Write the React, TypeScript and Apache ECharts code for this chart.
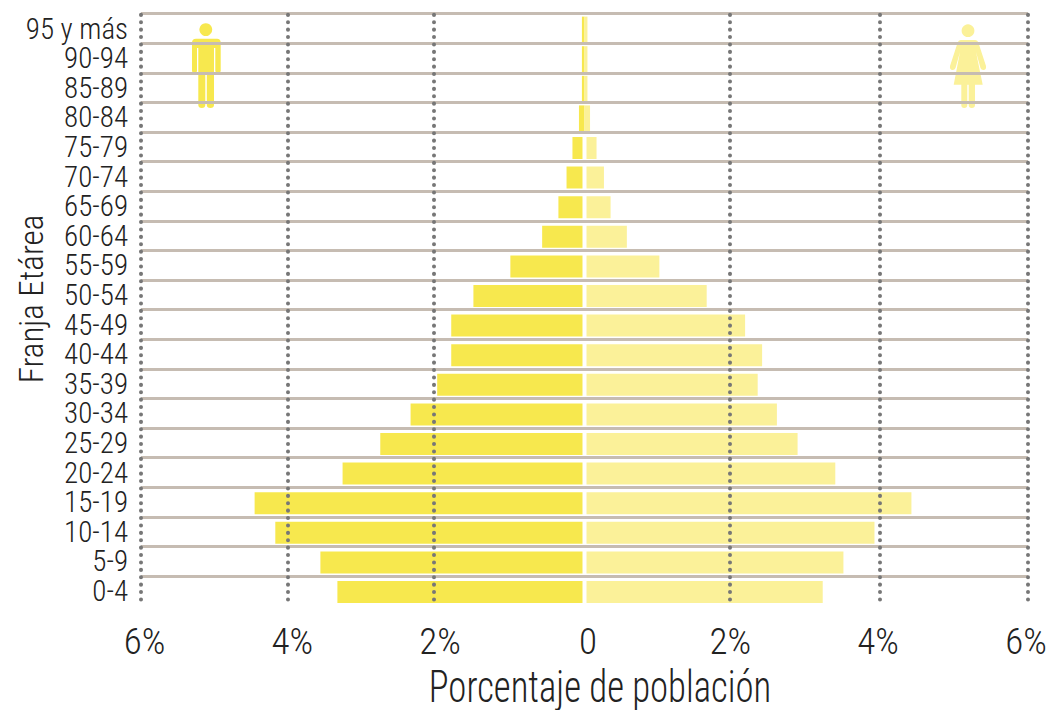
import React, { useEffect, useRef } from "react";
import * as echarts from "echarts";

const ageGroups = ["0-4","5-9","10-14","15-19","20-24","25-29","30-34","35-39","40-44","45-49","50-54","55-59","60-64","65-69","70-74","75-79","80-84","85-89","90-94","95 y más"];
const menShare = [3.37,3.6,4.21,4.49,3.3,2.79,2.38,2.02,1.83,1.83,1.53,1.03,0.6,0.38,0.27,0.19,0.075,0.035,0.035,0.035];
const womenShare = [3.25,3.53,3.95,4.45,3.42,2.91,2.63,2.37,2.43,2.2,1.68,1.04,0.6,0.38,0.29,0.19,0.075,0.04,0.04,0.04];
const tickLabels = [0, 2, 4, 6];
const menGridLines = [0, 2.04, 4.01, 6];
const womenGridLines = [0, 1.97, 3.99, 6];

const MEN = "#f7e84e";
const WOMEN = "#fbf199";
const FONT = "Roboto, 'Open Sans', sans-serif";
const INK = "#222";

const malePath = "M196 38.7 H217 Q220.7 38.7 220.7 42.5 V71 Q220.7 73 218 73 Q215.3 73 215.3 71 V48 H214 V105 Q214 108 210.4 108 Q206.8 108 206.8 105 V73 H205.3 V105 Q205.3 108 201.8 108 Q198.3 108 198.3 105 V48 H197 V71 Q197 73 194.5 73 Q192 73 192 71 V42.5 Q192 38.7 196 38.7 Z";
const femalePath = "M961 40 H975 Q977.5 40 978.5 43 L986 66 Q986.5 69.5 984 70 Q981.5 70.5 980.5 68 L976 52 L982.7 84.7 H975 V105 Q975 108 971.8 108 Q968.7 108 968.7 105 V84.7 H967.3 V105 Q967.3 108 964.2 108 Q961.3 108 961.3 105 V84.7 H953.7 L960 52 L955.5 68 Q954.5 70.5 952 70 Q949.5 69.5 950 66 L957.5 43 Q958.5 40 961 40 Z";

echarts.graphic.registerShape("maleIcon", echarts.graphic.extendPath(malePath, {}));
echarts.graphic.registerShape("femaleIcon", echarts.graphic.extendPath(femalePath, {}));

const barData = (values: number[], color: string) =>
  values.map((value, i) => {
    if (i >= 17) return { value, itemStyle: { borderColor: color, borderWidth: 2 } };
    if (i === 16) return { value, itemStyle: { borderWidth: 0 } };
    return value;
  });

const valueAxis = (gridIndex: number, inverse: boolean, gridLines: number[]) => ({
  type: "value",
  gridIndex,
  inverse,
  min: 0,
  max: 6,
  interval: 2,
  z: 4,
  axisLine: { show: false },
  axisTick: { show: false, customValues: gridLines },
  axisLabel: {
    show: true,
    customValues: tickLabels,
    margin: 16,
    padding: inverse ? [0, 0, 0, 7] : [0, 4, 0, 0],
    fontFamily: FONT,
    fontSize: 37,
    color: INK,
    formatter: (v: number) => (v === 0 ? (inverse ? "0" : "") : v + "%"),
  },
  splitLine: {
    show: true,
    showMinLine: false,
    lineStyle: { color: "#777", width: 4, type: [0.1, 7.3], cap: "round" },
  },
});

export default function App() {
  const ref = useRef<HTMLDivElement>(null);
  useEffect(() => {
    document.body.style.margin = "0";
    const css = document.createElement("style");
    css.textContent = "#root svg text { font-weight: 300 !important; font-stretch: condensed !important; }";
    document.head.appendChild(css);
    const chart = echarts.init(ref.current!, null, { renderer: "svg" });
    const barTop = 14.8;
    const h = 592;
    chart.setOption({
      animation: false,
      backgroundColor: "#fff",
      grid: [
        { left: 141, width: 887, top: 13.7, height: h, outerBoundsMode: "none" },
        { left: 141, width: 443.5, top: barTop, height: h, outerBoundsMode: "none" },
        { left: 584.5, width: 443.5, top: barTop, height: h, outerBoundsMode: "none" },
      ],
      xAxis: [
        {
          type: "value",
          gridIndex: 0,
          min: -6,
          max: 6,
          interval: 2,
          axisLine: { show: false },
          axisTick: { show: false },
          axisLabel: { show: false },
          splitLine: { show: false },
        },
        valueAxis(1, true, menGridLines),
        valueAxis(2, false, womenGridLines),
      ],
      yAxis: [
        {
          type: "category",
          gridIndex: 0,
          data: ageGroups,
          z: 3,
          axisLine: { show: false },
          axisTick: { show: false },
          axisLabel: { margin: 13, interval: 0, fontFamily: FONT, fontSize: 29, color: INK },
          splitLine: { show: true, interval: 0, showMinLine: false, lineStyle: { color: "#c6bcb2", width: 3 } },
        },
        { type: "category", gridIndex: 1, data: ageGroups, show: false },
        { type: "category", gridIndex: 2, data: ageGroups, show: false },
      ],
      series: [
        {
          type: "bar",
          name: "Hombres",
          xAxisIndex: 1,
          yAxisIndex: 1,
          barWidth: 26,
          itemStyle: { color: MEN, borderColor: "#fff", borderWidth: 2 },
          data: barData(menShare, MEN),
        },
        {
          type: "bar",
          name: "Mujeres",
          xAxisIndex: 2,
          yAxisIndex: 2,
          barWidth: 26,
          itemStyle: { color: WOMEN, borderColor: "#fff", borderWidth: 2 },
          data: barData(womenShare, WOMEN),
        },
      ],
      graphic: [
        { type: "circle", z: 0, shape: { cx: 205.8, cy: 29.6, r: 6.4 }, style: { fill: MEN } },
        { type: "maleIcon", z: 0, x: 0, y: 0, style: { fill: MEN } },
        { type: "circle", z: 0, shape: { cx: 968, cy: 30.7, r: 6.4 }, style: { fill: WOMEN } },
        { type: "femaleIcon", z: 0, x: 0, y: 0, style: { fill: WOMEN } },
        {
          type: "text",
          x: 600,
          y: 687,
          scaleX: 0.835,
          style: {
            text: "Porcentaje de población",
            font: `300 44px ${FONT}`,
            fill: INK,
            textAlign: "center",
            textVerticalAlign: "middle",
          },
        },
        {
          type: "text",
          x: 31,
          y: 299,
          rotation: Math.PI / 2,
          style: {
            text: "Franja Etárea",
            font: `300 33px ${FONT}`,
            fill: INK,
            textAlign: "center",
            textVerticalAlign: "middle",
          },
        },
      ],
    });
    return () => {
      chart.dispose();
      css.remove();
    };
  }, []);
  return <div ref={ref} style={{ width: 1050, height: 710, position: "absolute", left: 0, top: 0 }} />;
}
